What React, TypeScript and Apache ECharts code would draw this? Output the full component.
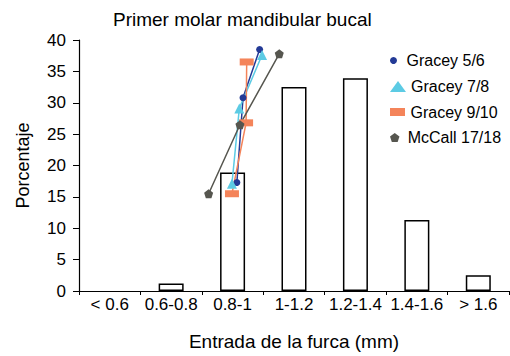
import React, { useEffect, useRef } from "react";
import * as echarts from "echarts";

const categories = ["< 0.6", "0.6-0.8", "0.8-1", "1-1.2", "1.2-1.4", "1.4-1.6", "> 1.6"];
const barValues = [0, 1.2, 18.9, 32.5, 33.9, 11.3, 2.5];

const seriesNames = ["Gracey 5/6", "Gracey 7/8", "Gracey 9/10", "McCall 17/18"];
const gracey56X = [2.57, 2.67, 2.94];
const gracey56Y = [17.3, 30.8, 38.5];
const gracey78X = [2.49, 2.61, 2.98];
const gracey78Y = [17.1, 29.1, 37.6];
const gracey910X = [2.49, 2.72, 2.73];
const gracey910Y = [15.5, 26.8, 36.5];
const mccallX = [2.11, 2.62, 3.26];
const mccallY = [15.5, 26.5, 37.8];

const FONT = "'Liberation Sans', Arial, Helvetica, sans-serif";
const PENTAGON = "path://M0,-1L0.951,-0.309L0.588,0.809L-0.588,0.809L-0.951,-0.309Z";
const RECT = "path://M0,0H15V8H0Z";

const pairs = (xs: number[], ys: number[]) => xs.map((x, i) => [x, ys[i]]);

export default function App() {
  const ref = useRef<HTMLDivElement>(null);
  useEffect(() => {
    if (!ref.current) return;
    const chart = echarts.init(ref.current, null, { renderer: "svg" });
    const colors = ["#233a96", "#5ccbe4", "#f4845a", "#56564f"];
    const symbols = ["circle", "triangle", "rect", PENTAGON];
    const sizes: any[] = [7, 10, [14, 7], 9];
    const xs = [gracey56X, gracey78X, gracey910X, mccallX];
    const ys = [gracey56Y, gracey78Y, gracey910Y, mccallY];
    const legendIcons = ["circle", "triangle", RECT, PENTAGON];
    const legendH = [7, 11, 8, 9];
    const legendCenters = [61.5, 87.5, 113, 138.5];
    const lineSeries = seriesNames.map((name, i) => ({
      name,
      type: "line",
      xAxisIndex: 1,
      yAxisIndex: 0,
      data: pairs(xs[i], ys[i]),
      symbol: symbols[i],
      symbolSize: sizes[i],
      showSymbol: true,
      lineStyle: { color: colors[i], width: 1.5 },
      itemStyle: { color: colors[i] },
      z: 3,
    }));
    chart.setOption({
      animation: false,
      textStyle: { fontFamily: FONT, color: "#000" },
      title: {
        text: "Primer molar mandibular bucal",
        left: 113,
        top: 10,
        padding: 0,
        textStyle: { fontFamily: FONT, fontSize: 19, fontWeight: "normal", color: "#000" },
      },
      legend: seriesNames.map((name, i) => ({
        data: [{ name, icon: legendIcons[i] }],
        orient: "vertical",
        left: 390,
        top: legendCenters[i] - 9,
        padding: 0,
        itemWidth: 16,
        itemHeight: legendH[i],
        itemGap: 0,
        symbolKeepAspect: true,
        textStyle: { fontFamily: FONT, fontSize: 16, color: "#000" },
        itemStyle: { color: colors[i], borderWidth: 0 },
      })),
      grid: { left: 79, right: 1, top: 40, bottom: 62, containLabel: false },
      xAxis: [
        {
          type: "category",
          data: categories,
          name: "Entrada de la furca (mm)",
          nameLocation: "middle",
          nameGap: 41,
          nameTextStyle: { fontFamily: FONT, fontSize: 19, color: "#000" },
          axisLine: { lineStyle: { color: "#000", width: 1.2 } },
          axisTick: { show: true, length: 4, lineStyle: { color: "#000" } },
          axisLabel: { fontFamily: FONT, fontSize: 17, color: "#000", margin: 5, interval: 0 },
          splitLine: { show: false },
        },
        { type: "value", min: 0, max: 7, show: false },
      ],
      yAxis: {
        type: "value",
        min: 0,
        max: 40,
        interval: 5,
        name: "Porcentaje",
        nameLocation: "middle",
        nameGap: 47,
        nameTextStyle: { fontFamily: FONT, fontSize: 18, color: "#000" },
        axisLine: { show: true, lineStyle: { color: "#000", width: 1.2 } },
        axisTick: { show: true, length: 6, lineStyle: { color: "#000" } },
        axisLabel: { fontFamily: FONT, fontSize: 17, color: "#000", margin: 13 },
        splitLine: { show: false },
      },
      series: [
        {
          name: "bars",
          type: "bar",
          xAxisIndex: 0,
          yAxisIndex: 0,
          data: barValues.map((v) => (v === 0 ? null : v)),
          barWidth: 25,
          itemStyle: { color: "#fff", borderColor: "#000", borderWidth: 1.5 },
          z: 2,
        },
        ...lineSeries,
      ],
    });
    return () => chart.dispose();
  }, []);
  return <div ref={ref} style={{ width: 510, height: 356, position: "absolute", left: 0, top: 0 }} />;
}
